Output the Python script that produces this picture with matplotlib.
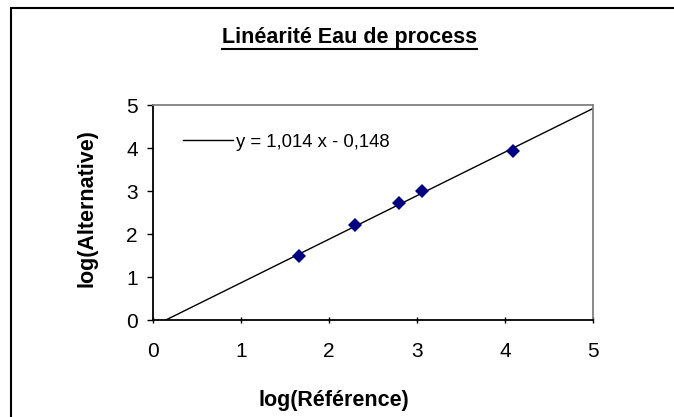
import numpy as np
import matplotlib
matplotlib.use("Agg")
import matplotlib.pyplot as plt
from matplotlib.patches import Rectangle
from matplotlib.lines import Line2D

plt.rcParams['font.family'] = ['Liberation Sans', 'DejaVu Sans']

# points
log_ref = [1.66, 2.30, 2.79, 3.06, 4.09]
log_alt = [1.48, 2.21, 2.73, 3.01, 3.94]

# trend line given in the legend
pente = 1.014
ordonnee = -0.148
eq_label = "y = 1,014 x - 0,148"

ticks = [0, 1, 2, 3, 4, 5]

fig = plt.figure(figsize=(6.74, 4.17), dpi=100)
ax = fig.add_axes([0.227, 0.2326, 0.653, 0.5154])

# trend line
xs = np.array([0, 5])
ax.plot(xs, pente * xs + ordonnee, color='black', lw=1.0, label=eq_label, zorder=2)
ax.plot(log_ref, log_alt, linestyle='none', marker='D', markersize=7.5,
        color='#000080', mew=0, zorder=3)

ax.set_xlim(0, 5)
ax.set_ylim(0, 5)
ax.set_xticks(ticks)
ax.set_yticks(ticks)

for s in ['left', 'bottom']:
    ax.spines[s].set_color('black')
    ax.spines[s].set_linewidth(1.3)
for s in ['top', 'right']:
    ax.spines[s].set_color('#808080')
    ax.spines[s].set_linewidth(1.3)

ax.tick_params(axis='x', direction='inout', length=5, width=1.0, pad=13, labelsize=15)
ax.tick_params(axis='y', direction='out', length=4, width=1.0, pad=7, labelsize=15)

# axis titles placed like in the original (x title is left of centre)
ax.set_xlabel('log(Référence)', fontsize=15.5, fontweight='bold')
ax.xaxis.set_label_coords(0.411, -0.325)
ax.set_ylabel('log(Alternative)', fontsize=15.5, fontweight='bold')
ax.yaxis.set_label_coords(-0.125, 0.52)

ax.legend(loc='center left', bbox_to_anchor=(0.068, 0.828), frameon=False,
          handlelength=2.7, handletextpad=0.15, borderpad=0, borderaxespad=0,
          fontsize=13.3)

# title with underline
titre = fig.text(0.519, 1 - 43 / 417, 'Linéarité Eau de process', ha='center',
                 va='baseline', fontsize=15.5, fontweight='bold')
fig.canvas.draw()
bb = titre.get_window_extent()
fig.add_artist(Line2D([bb.x0, bb.x1], [bb.y0 - 1, bb.y0 - 1], color='black', lw=1.5,
                      transform=None))

# outer chart frame (cut off at right and bottom)
fig.add_artist(Rectangle((11 / 674, -0.1), 1.2, 1 - 8 / 417 + 0.1, fill=False,
                         edgecolor='black', lw=1.5, transform=fig.transFigure,
                         clip_on=False))

fig.savefig('out.png', dpi=100)
